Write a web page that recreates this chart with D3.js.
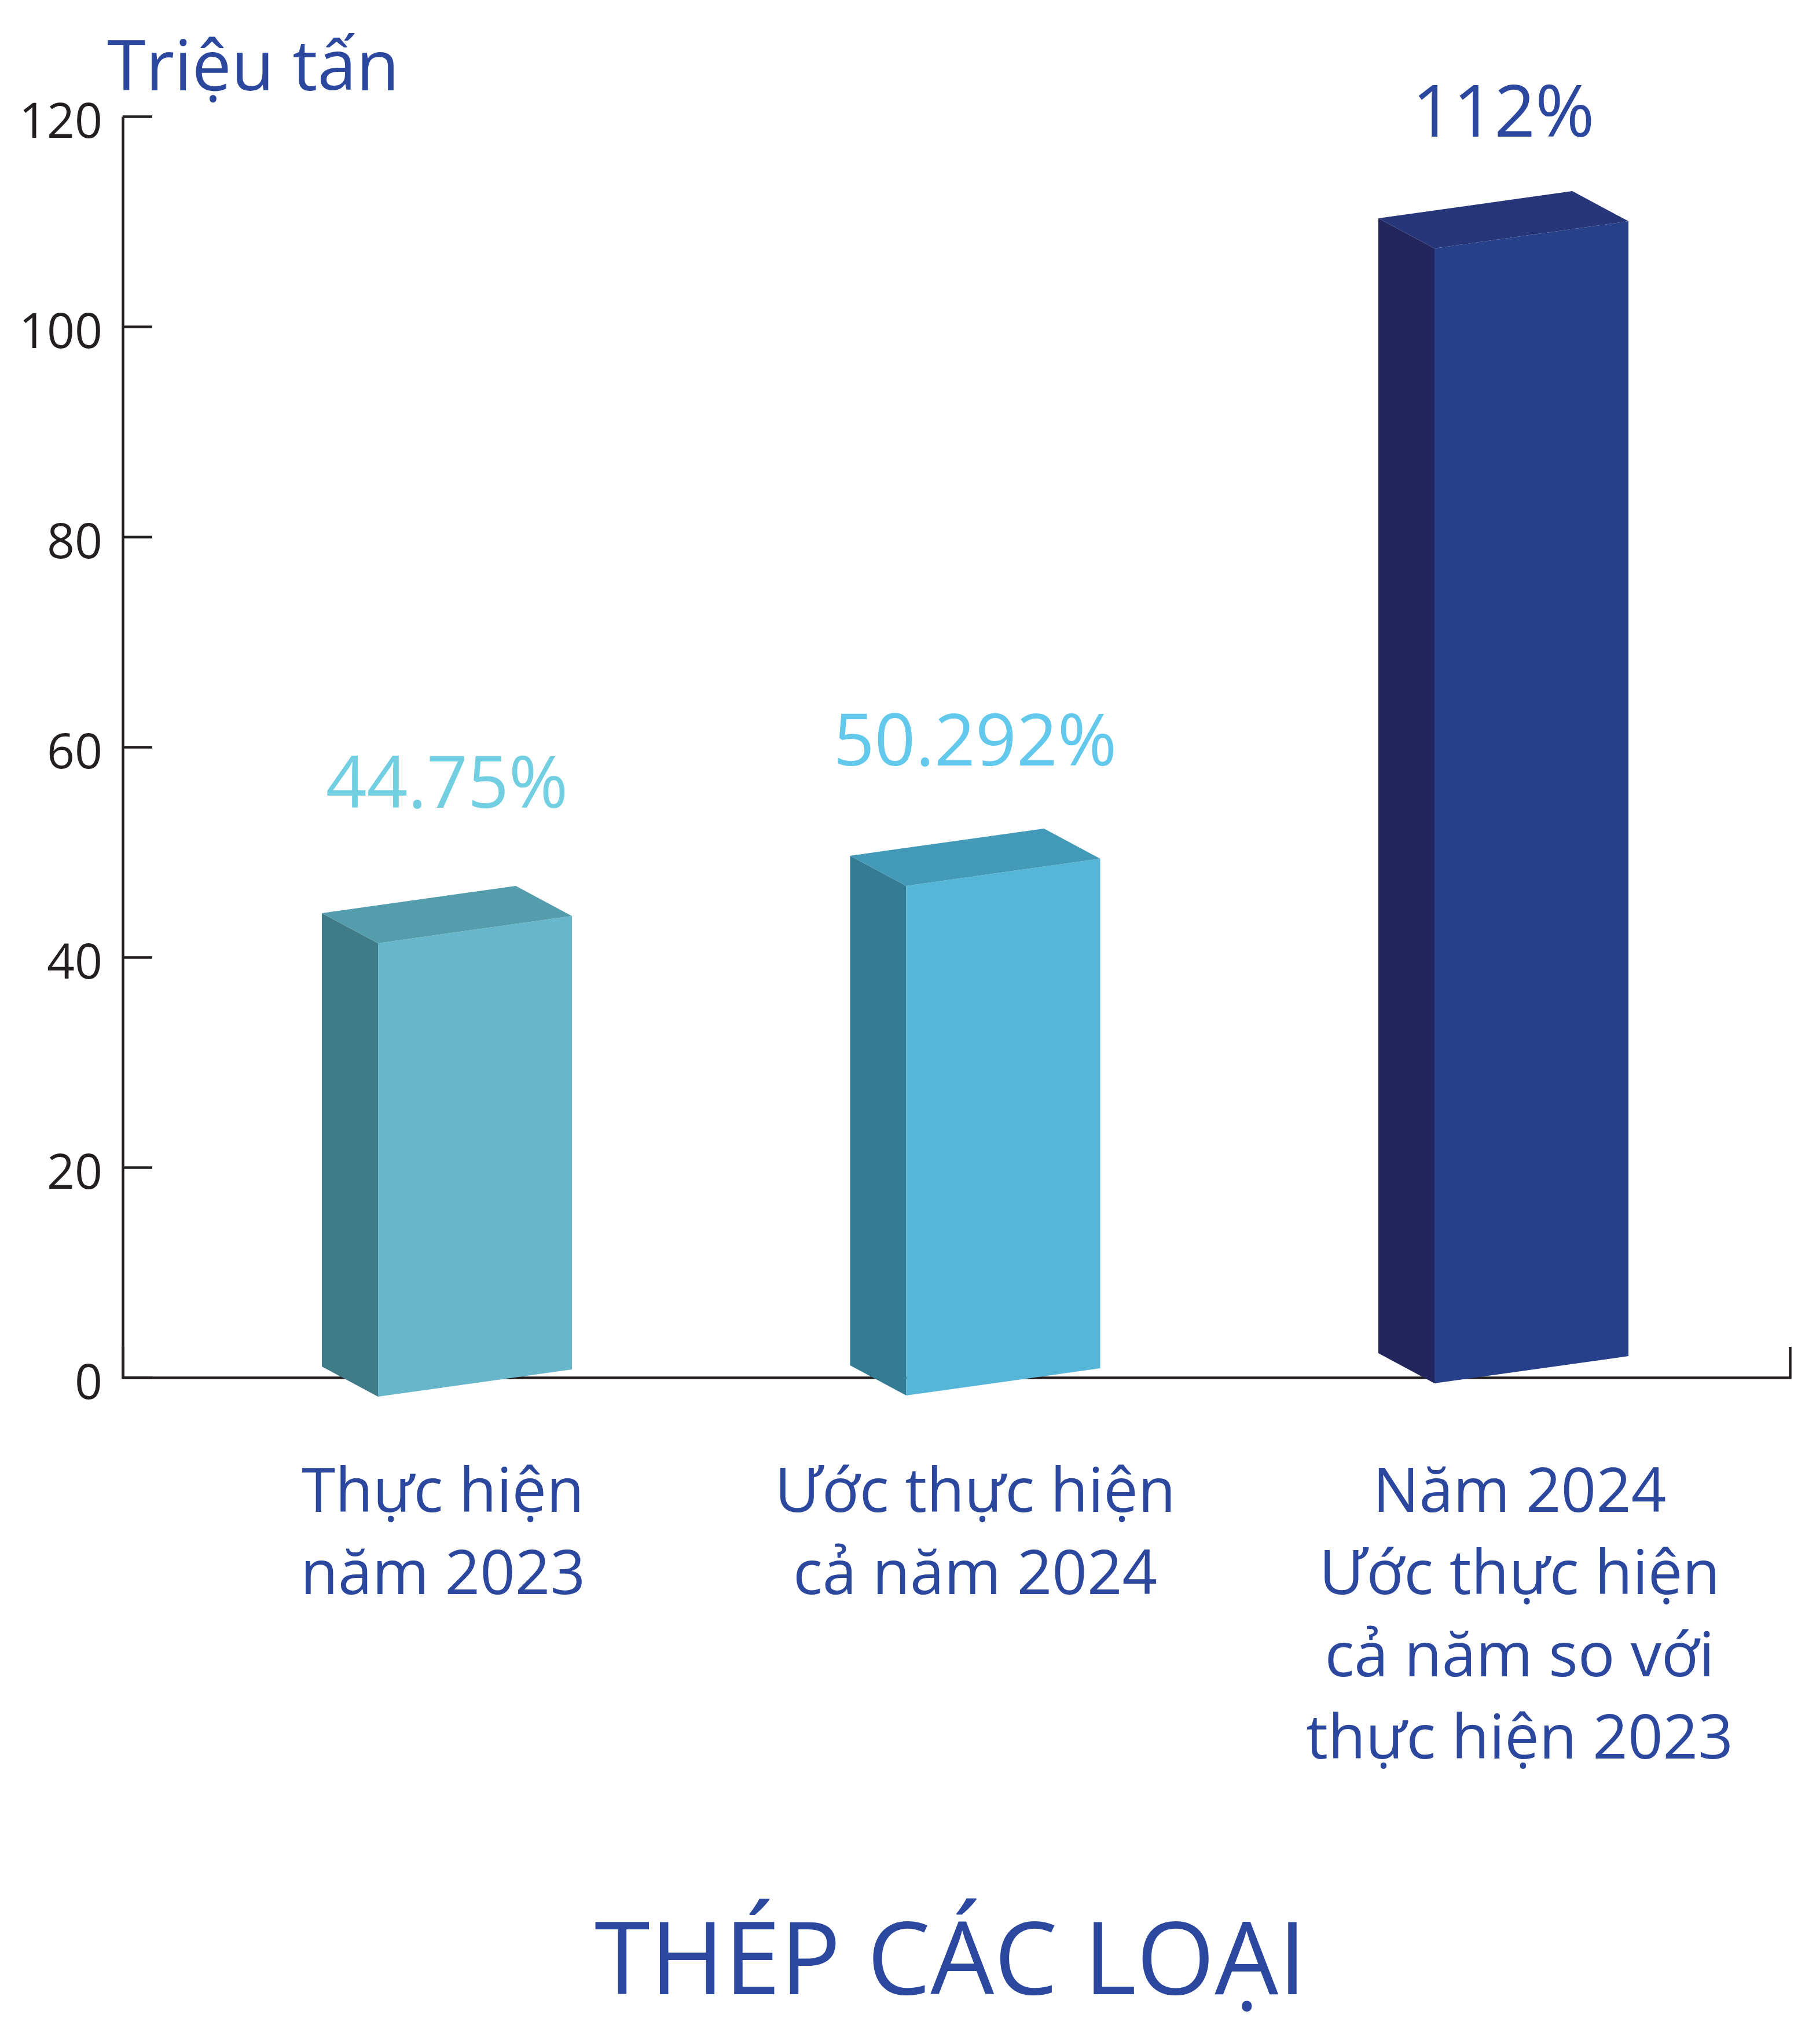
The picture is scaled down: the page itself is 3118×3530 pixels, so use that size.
<!DOCTYPE html>
<html>
<head>
<meta charset="utf-8">
<script src="https://cdn.jsdelivr.net/npm/d3@7/dist/d3.min.js"></script>
<style>
  body { margin: 0; background: #fff; }
  text { font-family: "Open Sans", "Noto Sans", sans-serif; }
</style>
</head>
<body>
<svg id="chart" width="3118" height="3530"></svg>
<script>
// chart data
const categories = ["Thực hiện năm 2023", "Ước thực hiện cả năm 2024", "Năm 2024 Ước thực hiện cả năm so với thực hiện 2023"];
const categoryLines = [
  ["Thực hiện", "năm 2023"],
  ["Ước thực hiện", "cả năm 2024"],
  ["Năm 2024", "Ước thực hiện", "cả năm so với", "thực hiện 2023"]
];
const values = [44.75, 50.292, 112];
const valueLabels = ["44.75%", "50.292%", "112%"];
const yTicks = [0, 20, 40, 60, 80, 100, 120];

// colours per bar: front, side, top, label
const frontColors = ["#67b6c9", "#56b6d8", "#26418a"];
const sideColors = ["#407b88", "#337c94", "#22265c"];
const topColors = ["#549dad", "#4399b8", "#273679"];
const labelColors = ["#72cfe2", "#62c9ec", "#2b479e"];

// layout
const axisX = 212, axisRight = 3092;
const FRONT_W = 335, DEPTH_X = 97, DEPTH_Y = 52, SLANT = 47;
const baseShift = [33, 31, 10];   // how far the front bottom edge drops below the axis
const labelGap = [135, 109, 94];  // value label baseline above the box top
const catShift = [-7, 0, 28];     // category label nudge from box centre
const blue = "#2b479e", ink = "#231f20";

const svg = d3.select("#chart");

let yScale = d3.scaleLinear().domain([0, 120]).range([2379, 201]);
// the drawn boxes are a bit shorter than the axis (as in the picture)
let hScale = d3.scaleLinear().domain([0, 120]).range([0, 2100]);
let xScale = d3.scalePoint().domain(categories).range([772, 2597]);

// y axis with ticks pointing right
let leftAxis = d3.axisLeft(yScale)
  .tickValues(yTicks)
  .tickSizeInner(-51)
  .tickSizeOuter(0)
  .tickPadding(35);

let yAxisG = svg.append("g")
  .attr("transform", `translate(${axisX}, 0)`)
  .call(leftAxis);
yAxisG.selectAll("path, line").attr("stroke", ink).attr("stroke-width", 4.5);
yAxisG.selectAll("text")
  .attr("fill", ink)
  .attr("font-size", 84)
  .attr("dy", "0.44em");

// x axis line, with the small upward tick at the right end
let xLine = d3.scaleLinear().range([axisX, axisRight]);
let bottomAxis = d3.axisBottom(xLine).tickValues([]).tickSizeOuter(-53);
let xAxisG = svg.append("g")
  .attr("transform", `translate(0, ${yScale(0)})`)
  .call(bottomAxis);
xAxisG.select("path").attr("stroke", ink).attr("stroke-width", 4.5);

// unit title
svg.append("text")
  .attr("x", 185)
  .attr("y", 156)
  .attr("fill", blue)
  .attr("font-size", 121)
  .text("Triệu tấn");

// 3D boxes
let bars = svg.append("g");
values.forEach((v, i) => {
  let cx = xScale(categories[i]);
  let fl = cx - (FRONT_W + DEPTH_X) / 2 + DEPTH_X;
  let fr = fl + FRONT_W;
  let by = yScale(0) + baseShift[i];
  let ty = by - hScale(v);

  let front = [[fl, ty], [fr, ty - SLANT], [fr, by - SLANT], [fl, by]];
  let side = [[fl - DEPTH_X, ty - DEPTH_Y], [fl, ty], [fl, by], [fl - DEPTH_X, by - DEPTH_Y]];
  let top = [[fl - DEPTH_X, ty - DEPTH_Y], [fr - DEPTH_X, ty - SLANT - DEPTH_Y], [fr, ty - SLANT], [fl, ty]];

  let line = d3.line();
  bars.append("path").attr("d", line(side) + "Z").attr("fill", sideColors[i]);
  bars.append("path").attr("d", line(front) + "Z").attr("fill", frontColors[i]);
  bars.append("path").attr("d", line(top) + "Z").attr("fill", topColors[i]);

  // value label
  svg.append("text")
    .attr("x", cx)
    .attr("y", ty - SLANT - DEPTH_Y - labelGap[i])
    .attr("text-anchor", "middle")
    .attr("fill", labelColors[i])
    .attr("font-size", 124)
    .text(valueLabels[i]);

  // category label
  let t = svg.append("text")
    .attr("text-anchor", "middle")
    .attr("fill", blue)
    .attr("font-size", 106);
  categoryLines[i].forEach((ln, j) => {
    t.append("tspan")
      .attr("x", cx + catShift[i])
      .attr("y", 2611 + j * 142)
      .text(ln);
  });
});

// chart title
svg.append("text")
  .attr("x", 1642)
  .attr("y", 3444)
  .attr("text-anchor", "middle")
  .attr("fill", blue)
  .attr("font-size", 174)
  .text("THÉP CÁC LOẠI");
</script>
</body>
</html>
